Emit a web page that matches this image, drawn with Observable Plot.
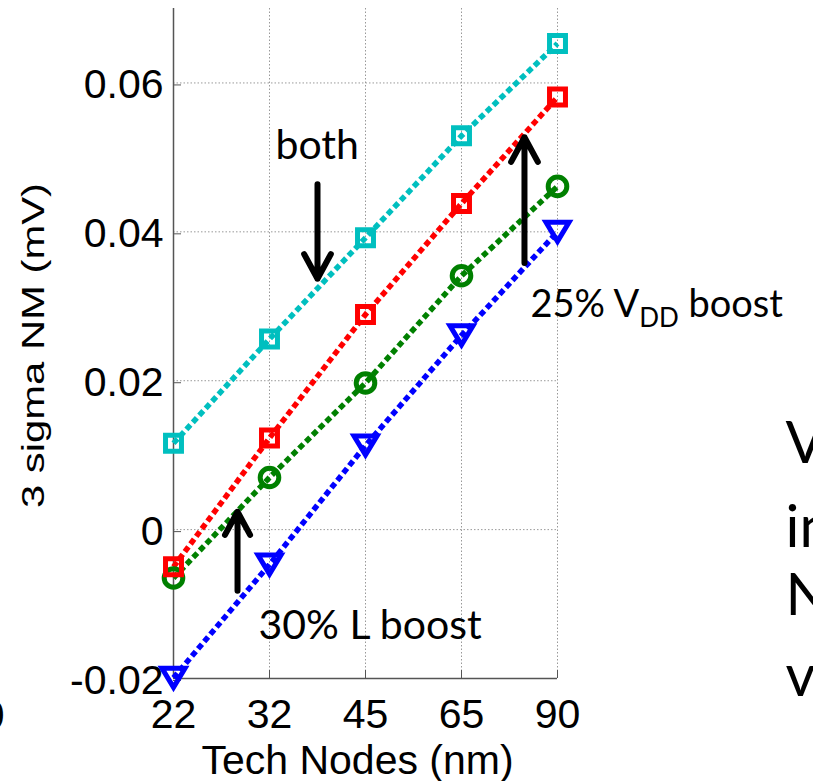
<!DOCTYPE html>
<html>
<head>
<meta charset="utf-8">
<script src="https://cdn.jsdelivr.net/npm/d3@7"></script>
<script src="https://cdn.jsdelivr.net/npm/@observablehq/plot@0.6"></script>
<style>
  html, body { margin: 0; padding: 0; background: #fff; }
  #chart { width: 813px; height: 781px; overflow: hidden; }
</style>
</head>
<body>
<div id="chart"></div>
<script>
// ---- data ----
const nodes = ["22", "32", "45", "65", "90"];
const baseline = [-0.0199, -0.0047, 0.0113, 0.0261, 0.0400];   // blue, triangles
const lBoost   = [-0.0065, 0.0070, 0.0197, 0.0341, 0.0461];    // green, circles
const vddBoost = [-0.0050, 0.0123, 0.0289, 0.0438, 0.0581];    // red, squares
const bothBoost = [0.0116, 0.0256, 0.0392, 0.0529, 0.0653];    // cyan, squares
const yTicks = [-0.02, 0, 0.02, 0.04, 0.06];
const yTickLabels = ["-0.02", "0", "0.02", "0.04", "0.06"];
const xLabel = "Tech Nodes (nm)";
const yLabel = "3 sigma NM (mV)";

const table = arr => nodes.map((n, i) => ({i, node: n, v: arr[i]}));

// custom downward triangle symbol
const triangleDown = {
  draw(ctx, size) {
    const r = Math.sqrt(size / Math.PI);
    const a = 1.28 * r, h = 1.06 * r;
    ctx.moveTo(-a, -h);
    ctx.lineTo(a, -h);
    ctx.lineTo(0, h);
    ctx.closePath();
  }
};

const lineOpts = {strokeWidth: 5.5, strokeDasharray: "6,3.5", strokeLinecap: "butt"};
const dotOpts = {strokeWidth: 5, fill: "none"};

const series = [
  {data: baseline, color: "#0000ff", symbol: triangleDown, r: 9},
  {data: lBoost, color: "#008000", symbol: "circle", r: 9.3},
  {data: vddBoost, color: "#ff0000", symbol: "square", r: 9},
  {data: bothBoost, color: "#00bfbf", symbol: "square", r: 9}
];

const annot = {fontFamily: "Lato", fontSize: 41, textAnchor: "start", lineAnchor: "middle", fill: "black"};
const sideText = {fontFamily: "Lato", fontSize: 58, textAnchor: "start", lineAnchor: "middle", fill: "black"};
const arrowOpts = {x1: "x1", y1: "y1", x2: "x2", y2: "y2", stroke: "black", strokeWidth: 6, headLength: 7, headAngle: 57};

const marks = [
  Plot.gridX({ticks: d3.range(1, nodes.length), stroke: "#999", strokeOpacity: 1, strokeDasharray: "1.5,2"}),
  Plot.gridY({ticks: yTicks, stroke: "#999", strokeOpacity: 1, strokeDasharray: "1.5,2"}),
  Plot.ruleX([0], {stroke: "#555", strokeWidth: 1.5}),
  Plot.ruleY([yTicks[0]], {stroke: "#555", strokeWidth: 1.5}),
  Plot.axisX({ticks: d3.range(nodes.length), tickFormat: i => nodes[i], tickSize: -8, tickPadding: 28, label: null, stroke: "#555"}),
  Plot.axisY({ticks: yTicks, tickFormat: d => yTickLabels[yTicks.indexOf(d)], tickSize: -8, tickPadding: 18, dy: 2, label: null, stroke: "#555"}),
  Plot.text([xLabel], {frameAnchor: "bottom", text: d => d, textAnchor: "middle", lineAnchor: "middle", dx: -8, dy: 82, fontSize: 41}),
  Plot.text([yLabel], {frameAnchor: "left", text: d => d, rotate: -90, textAnchor: "middle", lineAnchor: "middle", dx: -140, dy: 2, fontSize: 32})
];
for (const s of series) {
  marks.push(Plot.line(table(s.data), {x: "i", y: "v", stroke: s.color, ...lineOpts}));
}
for (const s of series) {
  marks.push(Plot.dot(table(s.data), {x: "i", y: "v", stroke: s.color, symbol: s.symbol, r: s.r, ...dotOpts}));
}
// annotations
marks.push(
  Plot.arrow([{x1: 1.5, y1: 0.0464, x2: 1.5, y2: 0.0337}], arrowOpts),
  Plot.arrow([{x1: 3.656, y1: 0.0358, x2: 3.656, y2: 0.0527}], arrowOpts),
  Plot.arrow([{x1: 0.667, y1: -0.0082, x2: 0.667, y2: 0.0024}], arrowOpts),
  Plot.text(["both"], {x: 1.0625, y: 0.0515, text: d => d, ...annot}),
  Plot.text(["25% VDD boost"], {x: 3.719, y: 0.0302, text: d => d, ...annot, fontSize: 38}),
  Plot.text(["30% L boost"], {x: 0.885, y: -0.0129, text: d => d, ...annot}),
  Plot.text(["V"], {x: 6.375, y: 0.0115, text: d => d, ...sideText}),
  Plot.text(["in"], {x: 6.375, y: 0.0002, text: d => d, ...sideText}),
  Plot.text(["N"], {x: 6.375, y: -0.0090, text: d => d, ...sideText}),
  Plot.text(["v"], {x: 6.375, y: -0.0198, text: d => d, ...sideText}),
  Plot.text(["0"], {x: -1.76, y: -0.0250, text: d => d, textAnchor: "end", lineAnchor: "middle", fontSize: 40})
);

const chart = Plot.plot({
  width: 813,
  height: 781,
  marginLeft: 173,
  marginRight: 256,
  marginTop: 8,
  marginBottom: 103,
  style: {fontFamily: "'Liberation Sans', Arial, sans-serif", fontSize: "41px", background: "white", overflow: "visible"},
  x: {type: "linear", domain: [0, nodes.length - 1]},
  y: {domain: [-0.02, 0.07]},
  marks
});

// post-process: stretch y label, subscript DD
d3.select(chart).selectAll("text").each(function() {
  const t = this.textContent;
  if (t === yLabel) {
    this.setAttribute("textLength", 325);
    this.setAttribute("lengthAdjust", "spacingAndGlyphs");
  } else if (t === "25% VDD boost") {
    const el = d3.select(this);
    el.text(null);
    el.append("tspan").text("25% V");
    el.append("tspan").attr("dy", 10).attr("font-size", 26).text("DD");
    el.append("tspan").attr("dy", -10).text(" boost");
  }
});

document.getElementById("chart").appendChild(chart);
</script>
</body>
</html>
